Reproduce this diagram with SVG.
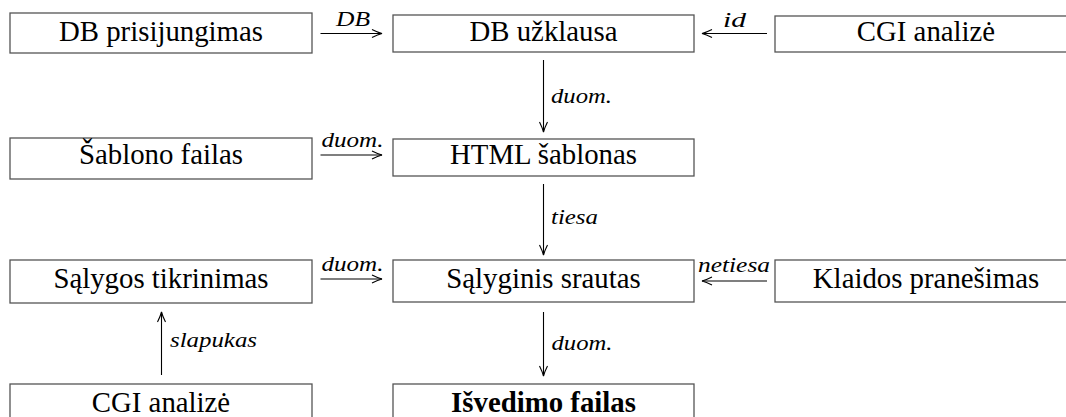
<svg xmlns="http://www.w3.org/2000/svg" width="1066" height="417" viewBox="0 0 1066 417">
<style>
.box{fill:#fff;stroke:#555;stroke-width:1.3}
.t{font-family:"Liberation Serif","Times New Roman",serif;font-size:28.8px;fill:#000;text-anchor:middle}
.b{font-weight:bold}
.lbl{font-family:"Liberation Serif","DejaVu Serif",serif;font-style:italic;font-size:22px;fill:#000}
.c{stroke:#000;stroke-width:1.1;fill:none}
</style>
<defs>
<marker id="ah" viewBox="-12 -6 14 12" refX="0" refY="0" markerWidth="14" markerHeight="12" markerUnits="userSpaceOnUse" orient="auto">
<path d="M-10,-4 Q-4,-1 0,0 Q-4,1 -10,4" fill="none" stroke="#000" stroke-width="1.1"/>
</marker>
</defs>
<g id="n1"><rect class="box" x="10" y="13" width="302" height="40"/><text class="t" x="161" y="41">DB prisijungimas</text></g>
<g id="n2"><rect class="box" x="393" y="15" width="301" height="37"/><text class="t" x="543.5" y="41">DB užklausa</text></g>
<g id="n3"><rect class="box" x="775" y="16" width="302" height="36"/><text class="t" x="926" y="41">CGI analizė</text></g>
<g id="n4"><rect class="box" x="10" y="138" width="302" height="41"/><text class="t" x="161" y="164">Šablono failas</text></g>
<g id="n5"><rect class="box" x="393" y="139" width="301" height="37"/><text class="t" x="543.5" y="164">HTML šablonas</text></g>
<g id="n6"><rect class="box" x="10" y="260" width="302" height="43"/><text class="t" x="161" y="288">Sąlygos tikrinimas</text></g>
<g id="n7"><rect class="box" x="393" y="260" width="301" height="42"/><text class="t" x="543.5" y="288">Sąlyginis srautas</text></g>
<g id="n8"><rect class="box" x="775" y="260" width="302" height="42"/><text class="t" x="926" y="288">Klaidos pranešimas</text></g>
<g id="n9"><rect class="box" x="10" y="384" width="302" height="42"/><text class="t" x="161" y="412">CGI analizė</text></g>
<g id="n10"><rect class="box" x="393" y="384" width="301" height="42"/><text class="t b" x="543.5" y="412">Išvedimo failas</text></g>
<g id="connectors">
<line class="c" x1="320.5" y1="33.5" x2="382" y2="33.5" marker-end="url(#ah)"/>
<text class="lbl" x="336" y="26" textLength="34" lengthAdjust="spacingAndGlyphs">DB</text>
<line class="c" x1="767" y1="33.5" x2="702" y2="33.5" marker-end="url(#ah)"/>
<text class="lbl" x="723" y="26.5" textLength="23" lengthAdjust="spacingAndGlyphs">id</text>
<line class="c" x1="543.5" y1="60" x2="543.5" y2="132" marker-end="url(#ah)"/>
<text class="lbl" x="551" y="103" textLength="61" lengthAdjust="spacingAndGlyphs">duom.</text>
<line class="c" x1="320.5" y1="155" x2="382" y2="155" marker-end="url(#ah)"/>
<text class="lbl" x="321.5" y="146.5" textLength="62" lengthAdjust="spacingAndGlyphs">duom.</text>
<line class="c" x1="543.5" y1="184" x2="543.5" y2="255" marker-end="url(#ah)"/>
<text class="lbl" x="551" y="224" textLength="47" lengthAdjust="spacingAndGlyphs">tiesa</text>
<line class="c" x1="320.5" y1="279" x2="382" y2="279" marker-end="url(#ah)"/>
<text class="lbl" x="321.5" y="271" textLength="62" lengthAdjust="spacingAndGlyphs">duom.</text>
<line class="c" x1="767" y1="281" x2="702" y2="281" marker-end="url(#ah)"/>
<text class="lbl" x="698" y="272" textLength="72" lengthAdjust="spacingAndGlyphs">netiesa</text>
<line class="c" x1="543.5" y1="312" x2="543.5" y2="376" marker-end="url(#ah)"/>
<text class="lbl" x="551.5" y="350" textLength="61" lengthAdjust="spacingAndGlyphs">duom.</text>
<line class="c" x1="161.5" y1="375" x2="161.5" y2="312" marker-end="url(#ah)"/>
<text class="lbl" x="170" y="346.5" textLength="87" lengthAdjust="spacingAndGlyphs">slapukas</text>
</g>
</svg>
